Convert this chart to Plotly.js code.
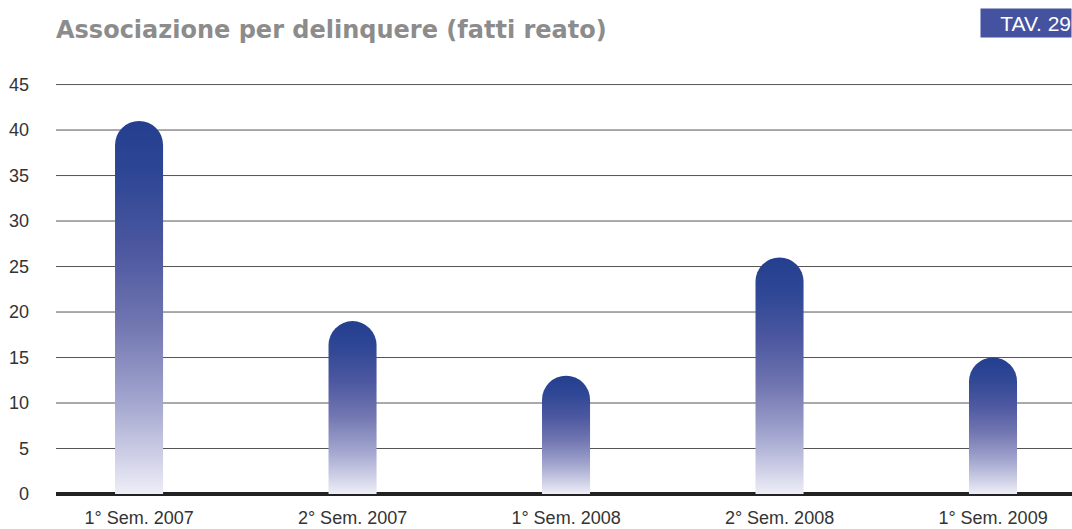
<!DOCTYPE html>
<html>
<head>
<meta charset="utf-8">
<script src="https://cdn.plot.ly/plotly-3.0.1.min.js"></script>
<style>
  html, body { margin: 0; padding: 0; background: #ffffff; overflow: hidden; }
  #chart { width: 1072px; height: 529px; }
</style>
</head>
<body>
<div id="chart"></div>
<script>
// ---- data ----
var categories = ['1° Sem. 2007', '2° Sem. 2007', '1° Sem. 2008', '2° Sem. 2008', '1° Sem. 2009'];
var values = [41, 19, 13, 26, 15];
var yTicks = [0, 5, 10, 15, 20, 25, 30, 35, 40, 45];
var chartTitle = 'Associazione per delinquere (fatti reato)';
var tableLabel = 'TAV. 29';

var gradStops = [
  [0.00, '#243f8f'],
  [0.15, '#2f4795'],
  [0.35, '#4d58a0'],
  [0.55, '#7277b1'],
  [0.75, '#a2a5ce'],
  [0.90, '#cfd0e7'],
  [1.00, '#eeeef7']
];

var trace = {
  type: 'bar',
  x: categories,
  y: values,
  width: 0.225,
  marker: { color: '#6a70ae', cornerradius: '50%', line: { width: 0 } },
  hoverinfo: 'x+y'
};

// horizontal grid lines built from the tick values (skip 0, drawn as the baseline)
var gridShapes = yTicks.filter(function (v) { return v > 0; }).map(function (v) {
  return {
    type: 'line', layer: 'below',
    xref: 'paper', x0: 0, x1: 1,
    yref: 'y', y0: v, y1: v,
    line: { color: '#555555', width: 1 }
  };
});

var layout = {
  width: 1072,
  height: 529,
  margin: { l: 56, r: 0, t: 80, b: 35, pad: 0 },
  paper_bgcolor: '#ffffff',
  plot_bgcolor: '#ffffff',
  showlegend: false,
  font: { family: 'Liberation Sans, Arial, sans-serif', size: 18, color: '#333333' },
  title: {
    text: '<b>' + chartTitle + '</b>',
    font: { family: 'DejaVu Sans, sans-serif', size: 24, color: '#8c8c8c', weight: 'bold' },
    xref: 'paper', x: 0, xanchor: 'left',
    yref: 'container', y: 1 - 30 / 529, yanchor: 'middle'
  },
  xaxis: {
    type: 'category',
    range: [-0.389, 4.37],
    showgrid: false,
    zeroline: false,
    showline: false,
    ticks: '',
    ticklabelstandoff: 11,
    tickfont: { size: 18, color: '#333333' },
    fixedrange: true
  },
  yaxis: {
    range: [0, 45.5],
    tickvals: yTicks,
    ticktext: yTicks.map(String),
    showgrid: false,
    zeroline: true,
    zerolinecolor: '#222222',
    zerolinewidth: 4,
    showline: false,
    ticks: '',
    ticklabelstandoff: 26,
    tickfont: { size: 18, color: '#333333' },
    fixedrange: true
  },
  shapes: gridShapes,
  annotations: [{
    text: tableLabel,
    xref: 'paper', x: 1, xanchor: 'right',
    yref: 'paper', y: (494 - 23) / 414, yanchor: 'middle',
    showarrow: false,
    bgcolor: '#4552a0',
    width: 90, height: 28,
    align: 'right',
    borderpad: 0,
    font: { family: 'Liberation Sans, Arial, sans-serif', size: 21, color: '#ffffff' }
  }]
};

Plotly.newPlot('chart', [trace], layout, { displayModeBar: false, staticPlot: true }).then(function (gd) {
  var svgNS = 'http://www.w3.org/2000/svg';
  var svg = gd.querySelector('svg.main-svg');
  var defs = svg.querySelector('defs') || svg.insertBefore(document.createElementNS(svgNS, 'defs'), svg.firstChild);
  var lg = document.createElementNS(svgNS, 'linearGradient');
  lg.setAttribute('id', 'barGrad');
  lg.setAttribute('x1', '0'); lg.setAttribute('y1', '0');
  lg.setAttribute('x2', '0'); lg.setAttribute('y2', '1');
  gradStops.forEach(function (s) {
    var st = document.createElementNS(svgNS, 'stop');
    st.setAttribute('offset', s[0]);
    st.setAttribute('stop-color', s[1]);
    lg.appendChild(st);
  });
  defs.appendChild(lg);
  gd.querySelectorAll('.bars .point path').forEach(function (p) {
    p.style.fill = 'url(#barGrad)';
  });
});
</script>
</body>
</html>
